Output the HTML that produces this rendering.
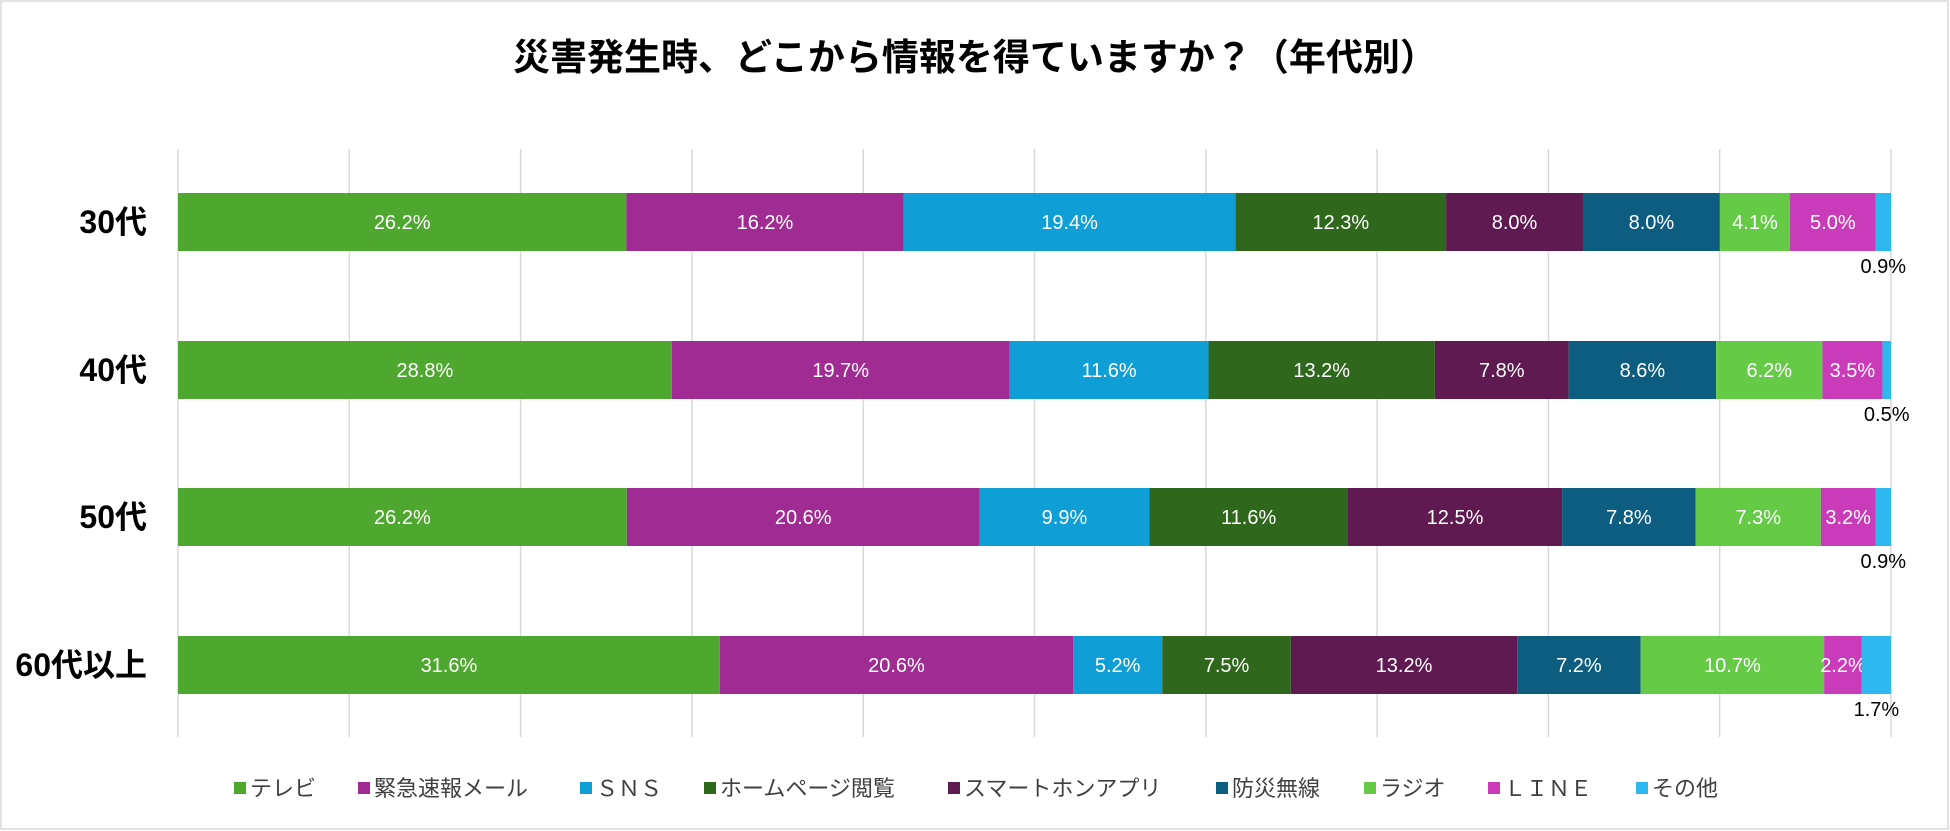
<!DOCTYPE html>
<html><head><meta charset="utf-8">
<style>
html,body{margin:0;padding:0;background:#fff;}
svg{display:block;font-family:"Liberation Sans","Noto Sans CJK JP",sans-serif;}
</style></head>
<body>
<svg id="chart" width="1950" height="831" viewBox="0 0 1950 831">
<rect x="1" y="1" width="1947" height="828" fill="#fff" stroke="#d9d9d9" stroke-width="1.5"/>
<text x="975" y="70" text-anchor="middle" font-size="37" font-weight="bold" fill="#000">災害発生時、どこから情報を得ていますか？（年代別）</text>
<g id="grid"></g><g id="bars"></g><g id="legend"></g>
</svg>
<script>
const categories = ["30代","40代","50代","60代以上"];
const seriesNames = ["テレビ","緊急速報メール","ＳＮＳ","ホームページ閲覧","スマートホンアプリ","防災無線","ラジオ","ＬＩＮＥ","その他"];
const seriesColors = ["#4ea72e","#a02b93","#0f9ed5","#2f681d","#5e1a51","#0c5d7f","#65cb47","#c93bb8","#2db8ef"];
const s30 = [26.2,16.2,19.4,12.3,8.0,8.0,4.1,5.0,0.9];
const s40 = [28.8,19.7,11.6,13.2,7.8,8.6,6.2,3.5,0.5];
const s50 = [26.2,20.6,9.9,11.6,12.5,7.8,7.3,3.2,0.9];
const s60 = [31.6,20.6,5.2,7.5,13.2,7.2,10.7,2.2,1.7];
const rows = [s30,s40,s50,s60];
const ticks = [0,10,20,30,40,50,60,70,80,90,100];

const NS="http://www.w3.org/2000/svg";
const X0=178, X1=1891;
const xScale = p => X0 + (X1-X0)*p/100;
const rowTop = [193,341,488,636];
const BH=58;
function mk(tag, attrs, parent){const e=document.createElementNS(NS,tag);for(const k in attrs)e.setAttribute(k,attrs[k]);parent.appendChild(e);return e;}
const grid=document.getElementById('grid');
ticks.forEach(t=>{
  const l=mk('line',{x1:xScale(t),x2:xScale(t),y1:149,y2:737,stroke:'#d9d9d9','stroke-width':1.5},grid);
  
  
});
const bars=document.getElementById('bars');
rows.forEach((vals,r)=>{
  const total=vals.reduce((a,b)=>a+b,0);
  const y=rowTop[r];
  const lab=mk('text',{x:147,y:y+BH/2+11,'text-anchor':'end','font-size':32,'font-weight':'bold',fill:'#000'},bars);
  lab.textContent=categories[r];
  
  
  let acc=0;
  vals.forEach((v,i)=>{
    const a=xScale(acc/total*100), b=xScale((acc+v)/total*100);
    acc+=v;
    const rc=mk('rect',{x:a,y:y,width:b-a,height:BH,fill:seriesColors[i]},bars);
    
    
    const t=mk('text',{'font-size':20,'text-anchor':'middle'},bars);
    if(i===vals.length-1){
      t.setAttribute('x',(a+b)/2);t.setAttribute('y',y+BH+22);t.setAttribute('fill','#000');
    } else {
      t.setAttribute('x',(a+b)/2);t.setAttribute('y',y+BH/2+7);t.setAttribute('fill','#fff');
    }
    t.textContent=v.toFixed(1)+'%';
    
    
  });
});
const legX=[234,358,580,704,948,1216,1364,1488,1636];
const legend=document.getElementById('legend');
seriesNames.forEach((n,i)=>{
  const g=mk('g',{},legend);
  
  
  mk('rect',{x:legX[i],y:782,width:12,height:12,fill:seriesColors[i]},g);
  const t=mk('text',{x:legX[i]+16,y:796,'font-size':22,fill:'#404040'},g);
  t.textContent=n;
});
</script>
</body></html>
